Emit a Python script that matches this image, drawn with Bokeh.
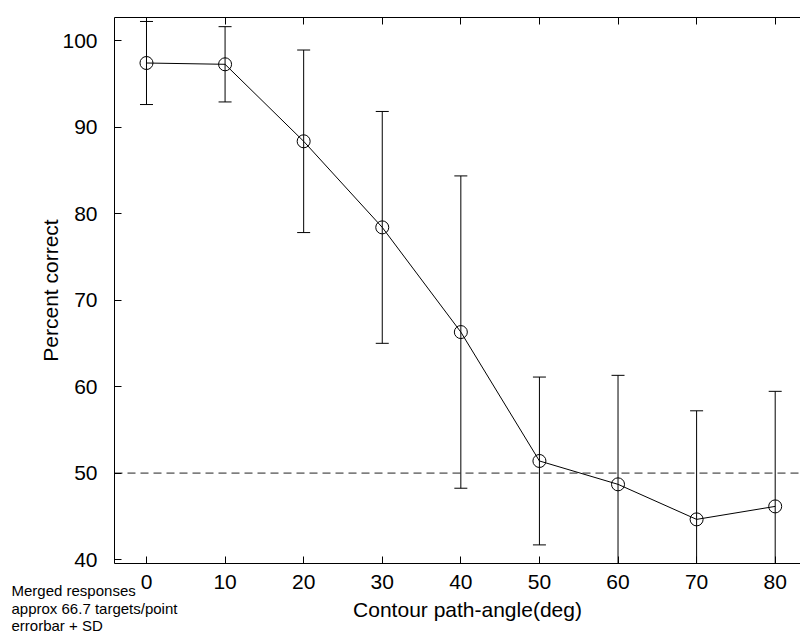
from bokeh.plotting import figure
from bokeh.models import Range1d, FixedTicker, LinearAxis, Label, ColumnDataSource
from bokeh.embed import file_html
from bokeh.resources import INLINE

# ---- data ----
angles = [0, 10, 20, 30, 40, 50, 60, 70, 80]
pct_mean = [97.4, 97.25, 88.35, 78.4, 66.3, 51.4, 48.7, 44.65, 46.15]
pct_sd = [4.8, 4.35, 10.55, 13.4, 18.05, 9.7, 12.6, 12.55, 13.3]
x_ticks = [0, 10, 20, 30, 40, 50, 60, 70, 80]
y_ticks = [40, 50, 60, 70, 80, 90, 100]
chance_level = 50
x_label = "Contour path-angle(deg)"
y_label = "Percent correct"
note_lines = ["Merged responses", "approx 66.7 targets/point", "errorbar + SD"]

FONT = "Liberation Sans"
W, H = 800, 635
# axes box (pixels) and the data limits at its edges
FL, FR, FT, FB = 114, 800, 17, 563
X0, X1 = -4.07, 83.22
Y0, Y1 = 39.55, 102.66

sx = (X1 - X0) / (FR - FL)
sy = (Y1 - Y0) / (FB - FT)
XL, XR = X0 - FL * sx, X1 + (W - FR) * sx
YB, YT = Y0 - (H - FB) * sy, Y1 + FT * sy

upper = [m + s for m, s in zip(pct_mean, pct_sd)]
lower = [m - s for m, s in zip(pct_mean, pct_sd)]
# error bars are cut at the axes box, as in the original
bar_lo = [max(v, Y0) for v in lower]
bar_hi = [min(v, Y1) for v in upper]
src = ColumnDataSource(dict(x=angles, y=pct_mean, lo=bar_lo, hi=bar_hi))
cap_x = [a for a, v in zip(angles, upper) if Y0 <= v <= Y1] + \
        [a for a, v in zip(angles, lower) if Y0 <= v <= Y1]
cap_y = [v for v in upper if Y0 <= v <= Y1] + [v for v in lower if Y0 <= v <= Y1]

p = figure(width=W, height=H, output_backend="svg", toolbar_location=None,
           x_range=Range1d(XL, XR), y_range=Range1d(YB, YT),
           min_border_left=0, min_border_right=0, min_border_top=0, min_border_bottom=0)
p.outline_line_color = None
p.xgrid.visible = False
p.ygrid.visible = False
p.background_fill_color = "white"
p.border_fill_color = "white"

xa, ya = p.xaxis[0], p.yaxis[0]
xa.fixed_location = Y0
xa.bounds = (X0, X1)
ya.fixed_location = X0
ya.bounds = (Y0, Y1)
for ax, ticks in ((xa, x_ticks), (ya, y_ticks)):
    ax.ticker = FixedTicker(ticks=ticks)
    ax.major_tick_in = 7
    ax.major_tick_out = 0
    ax.minor_tick_line_color = None
    ax.axis_line_color = "black"
    ax.major_tick_line_color = "black"
    ax.major_label_text_font = FONT
    ax.major_label_text_font_size = "21px"
    ax.major_label_text_color = "black"
xa.major_label_standoff = 11
ya.major_label_standoff = 17

top = LinearAxis(ticker=FixedTicker(ticks=x_ticks), major_tick_in=7, major_tick_out=0,
                 minor_tick_line_color=None, fixed_location=Y1, bounds=(X0, X1),
                 major_label_overrides={t: "" for t in x_ticks},
                 major_label_standoff=0, axis_line_color="black")
p.add_layout(top, "above")

# chance level
p.segment(x0=[X0], y0=[chance_level], x1=[X1], y1=[chance_level],
          line_color="#222222", line_width=1, line_dash="8 5")

p.segment(x0="x", y0="lo", x1="x", y1="hi", source=src, line_color="black", line_width=1)
p.scatter(x=cap_x, y=cap_y, marker="dash", size=13, line_color="black", line_width=1)
p.line(x="x", y="y", source=src, line_color="black", line_width=1)
p.scatter(x="x", y="y", source=src, marker="circle", size=13, fill_color=None,
          line_color="black", line_width=1)

# texts (screen units: from the left and from the bottom of the canvas)
p.add_layout(Label(x=467, y=H - 609, x_units="screen", y_units="screen",
                   text=x_label, text_font=FONT, text_font_size="21px",
                   text_align="center", text_baseline="middle", text_color="black"))
p.add_layout(Label(x=50, y=H - 290, x_units="screen", y_units="screen",
                   text=y_label, angle=90, angle_units="deg",
                   text_font=FONT, text_font_size="21px",
                   text_align="center", text_baseline="middle", text_color="black"))
for t, cy in zip(note_lines, [590, 608, 625]):
    p.add_layout(Label(x=11, y=H - cy, x_units="screen", y_units="screen",
                       text=t, text_font=FONT, text_font_size="15px",
                       text_align="left", text_baseline="middle", text_color="black"))

open("out.html", "w").write(file_html(p, INLINE))
